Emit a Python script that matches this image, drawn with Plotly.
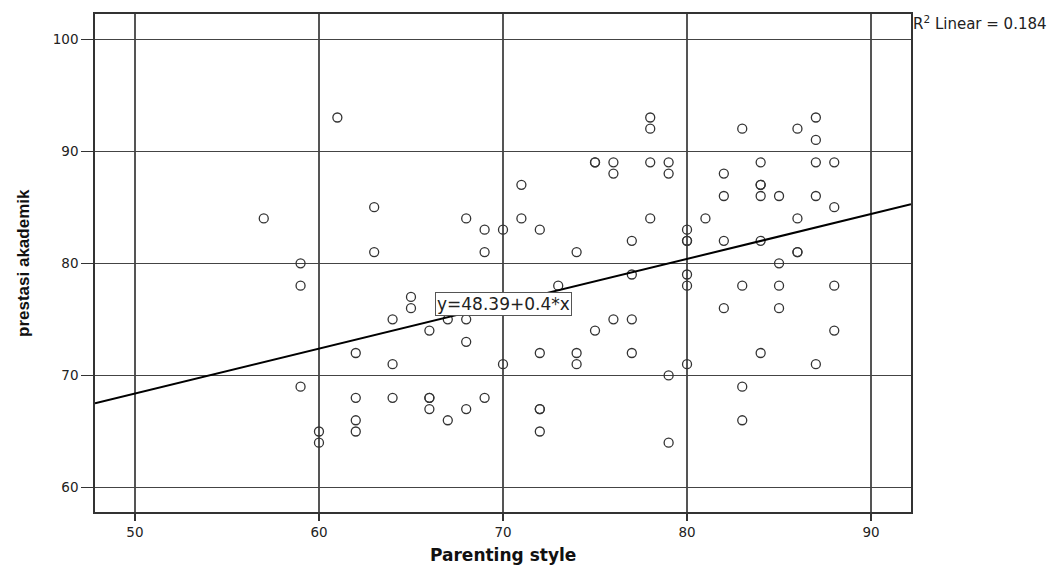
import plotly.graph_objects as go

# Data (Parenting style vs prestasi akademik)
parenting = [57, 59, 59, 59, 60, 60, 61, 62, 62, 62, 62, 63, 63, 64, 64, 64,
             65, 65, 66, 66, 66, 66, 67, 67, 68, 68, 68, 68, 69, 69, 69,
             70, 70, 71, 71, 72, 72, 72, 72, 72, 73, 74, 74, 74, 75, 75, 75,
             76, 76, 76, 77, 77, 77, 77, 78, 78, 78, 78, 79, 79, 79, 79,
             80, 80, 80, 80, 80, 80, 81, 82, 82, 82, 82, 83, 83, 83, 83,
             84, 84, 84, 84, 84, 84, 85, 85, 85, 85, 86, 86, 86, 86,
             87, 87, 87, 87, 87, 88, 88, 88, 88]
prestasi = [84, 80, 78, 69, 65, 64, 93, 72, 68, 66, 65, 85, 81, 75, 71, 68,
            77, 76, 74, 68, 68, 67, 75, 66, 84, 75, 73, 67, 83, 81, 68,
            83, 71, 87, 84, 83, 72, 67, 67, 65, 78, 81, 72, 71, 89, 89, 74,
            89, 88, 75, 82, 79, 75, 72, 93, 92, 89, 84, 89, 88, 70, 64,
            83, 82, 82, 79, 78, 71, 84, 88, 86, 82, 76, 92, 78, 69, 66,
            89, 87, 87, 86, 82, 72, 86, 80, 78, 76, 92, 84, 81, 81,
            93, 91, 89, 86, 71, 89, 85, 78, 74]

fit_intercept = 48.39
fit_slope = 0.4
r2_linear = 0.184

x_tick_vals = [50, 60, 70, 80, 90]
y_tick_vals = [60, 70, 80, 90, 100]
x_range = [47.83, 92.17]
y_range = [57.82, 102.23]

fig = go.Figure()

fig.add_trace(go.Scatter(
    x=parenting, y=prestasi, mode="markers",
    marker=dict(symbol="circle-open", size=9, color="#333333",
                line=dict(width=1.3, color="#333333")),
    showlegend=False, hoverinfo="x+y"))

line_x = x_range
line_y = [fit_intercept + fit_slope * v for v in line_x]
fig.add_trace(go.Scatter(
    x=line_x, y=line_y, mode="lines",
    line=dict(color="#000000", width=2),
    showlegend=False, hoverinfo="skip"))

tick_font = dict(family="DejaVu Sans", size=13.5, color="#222222")

fig.update_xaxes(
    range=x_range, tickvals=x_tick_vals, ticks="outside", ticklen=7,
    tickcolor="#333333", tickwidth=1.5, tickfont=tick_font,
    showgrid=True, gridcolor="#555555", gridwidth=2,
    showline=True, linecolor="#333333", linewidth=1.5, mirror=True,
    zeroline=False, fixedrange=True)
fig.update_yaxes(
    range=y_range, tickvals=y_tick_vals, ticks="outside", ticklen=12,
    tickcolor="#333333", tickwidth=1.2, tickfont=tick_font,
    showgrid=True, gridcolor="#444444", gridwidth=1.2,
    showline=True, linecolor="#333333", linewidth=1.5, mirror=True,
    zeroline=False, fixedrange=True)

fig.add_annotation(
    x=70, y=76.37, xref="x", yref="y",
    text="y=48.39+0.4*x", showarrow=False,
    font=dict(family="DejaVu Sans", size=17, color="#222222"),
    bgcolor="white", bordercolor="#555555", borderwidth=1, borderpad=1,
    xanchor="center", yanchor="middle")

fig.add_annotation(
    x=1.0, y=1.0, xref="paper", yref="paper",
    text="R<sup>2</sup> Linear = %.3f" % r2_linear, showarrow=False,
    font=dict(family="DejaVu Sans", size=15, color="#222222"),
    xanchor="left", yanchor="top", yshift=3)

fig.add_annotation(
    x=0.5, y=0, xref="paper", yref="paper",
    text="<b>Parenting style</b>", showarrow=False,
    font=dict(family="DejaVu Sans", size=17, color="#111111"),
    xanchor="center", yanchor="middle", yshift=-43)

fig.add_annotation(
    x=0, y=0.5, xref="paper", yref="paper",
    text="<b>prestasi akademik</b>", showarrow=False, textangle=-90,
    font=dict(family="Liberation Sans Narrow, Arial Narrow, sans-serif", size=17, color="#111111"),
    xanchor="center", yanchor="middle", xshift=-72)

fig.update_layout(
    width=1064, height=565,
    margin=dict(l=95, r=153, t=14, b=53),
    paper_bgcolor="white", plot_bgcolor="white",
    showlegend=False)

# remove the browser's default 8px body margin so the figure fills the window
fig.write_html("out.html",
               config={"displayModeBar": False},
               post_script="document.body.style.margin='0';document.body.style.overflow='hidden';")
